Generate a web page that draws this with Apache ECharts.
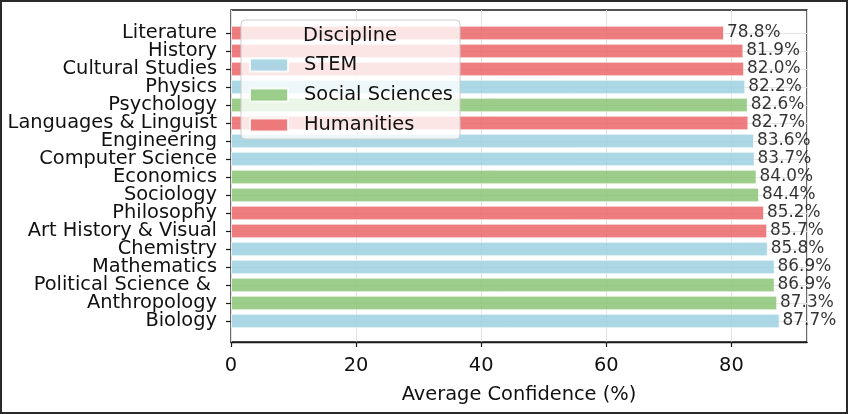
<!DOCTYPE html>
<html>
<head>
<meta charset="utf-8">
<script src="https://cdn.jsdelivr.net/npm/echarts@6/dist/echarts.min.js"></script>
<style>
html,body{margin:0;padding:0;background:#fff;}
#chart{width:848px;height:414px;}
</style>
</head>
<body>
<div id="chart"></div>
<script>
const categories = ['Literature','History','Cultural Studies','Physics','Psychology','Languages & Linguist','Engineering','Computer Science','Economics','Sociology','Philosophy','Art History & Visual','Chemistry','Mathematics','Political Science & ','Anthropology','Biology'];
const values = [78.8,81.9,82.0,82.2,82.6,82.7,83.6,83.7,84.0,84.4,85.2,85.7,85.8,86.9,86.9,87.3,87.7];
const groups = ['Humanities','Humanities','Humanities','STEM','Social Sciences','Humanities','STEM','STEM','Social Sciences','Social Sciences','Humanities','Humanities','STEM','STEM','Social Sciences','Social Sciences','STEM'];
const groupNames = ['STEM','Social Sciences','Humanities'];
const groupColors = ['#9dd1e2','#8bc477','#eb6669'];
const legendTitle = 'Discipline';
const xName = 'Average Confidence (%)';

const FONT = 'DejaVu Sans';
const FS = 19.4;
const FS_VAL = 16.9;
const xMax = 92.085;

const series = groupNames.map((g, k) => ({
  name: g,
  type: 'bar',
  xAxisIndex: 1,
  yAxisIndex: 1,
  barWidth: 14.4,
  barGap: '-100%',
  itemStyle: {color: groupColors[k], opacity: 0.85, borderColor: '#fff', borderWidth: 0.8},
  label: {
    show: true, position: 'right', distance: 3,
    fontFamily: FONT, fontSize: FS_VAL, color: '#111',
    formatter: p => p.value.toFixed(1) + '%'
  },
  data: values.map((v, i) => groups[i] === g ? v : null),
  z: 2
}));

const chart = echarts.init(document.getElementById('chart'), null, {renderer: 'canvas'});
chart.setOption({
  animation: false,
  backgroundColor: '#fff',
  textStyle: {fontFamily: FONT},
  grid: [
    {left: 231, right: 41, top: 10, height: 332, show: true, borderColor: '#1a1a1a', borderWidth: 1.3, backgroundColor: 'transparent'},
    {left: 231, right: 41, top: 24, height: 306},
    {left: 231, right: 41, top: 33, height: 288}
  ],
  xAxis: [
    {gridIndex: 0, type: 'value', min: 0, max: xMax, interval: 20,
     axisLine: {show: true, lineStyle: {color: '#1a1a1a', width: 1.3}},
     axisTick: {show: true, length: 5, lineStyle: {color: '#1a1a1a', width: 1.2}},
     axisLabel: {fontFamily: FONT, fontSize: FS, color: '#111', margin: 14, showMaxLabel: false},
     splitLine: {show: true, lineStyle: {color: '#e3e3e3', width: 1}},
     name: xName, nameLocation: 'middle', nameGap: 43,
     nameTextStyle: {fontFamily: FONT, fontSize: FS, color: '#111'}},
    {gridIndex: 1, type: 'value', min: 0, max: xMax, show: false},
    {gridIndex: 2, type: 'value', min: 0, max: xMax, show: false}
  ],
  yAxis: [
    {gridIndex: 0, type: 'value', min: 0, max: 1, show: false},
    {gridIndex: 1, type: 'category', inverse: true, data: categories,
     axisLine: {show: false},
     axisTick: {show: true, alignWithLabel: true, length: 5, lineStyle: {color: '#1a1a1a', width: 1.2}},
     axisLabel: {fontFamily: FONT, fontSize: FS, color: '#111', margin: 14, interval: 0, padding: [3, 0, 0, 0]},
     splitLine: {show: false}},
    {gridIndex: 2, type: 'category', inverse: true, boundaryGap: false, data: categories,
     axisLine: {show: false}, axisTick: {show: false}, axisLabel: {show: false},
     splitLine: {show: true, interval: 0, lineStyle: {color: '#e3e3e3', width: 1}}}
  ],
  legend: {
    data: groupNames, orient: 'vertical', left: 249, top: 55, padding: 0,
    itemWidth: 38, itemHeight: 13, itemGap: 10, icon: 'rect',
    textStyle: {fontFamily: FONT, fontSize: FS, color: '#111', padding: [0, 0, 0, 11], lineHeight: 20},
    z: 6
  },
  graphic: [
    {type: 'rect', z: 4, shape: {x: 241, y: 20, width: 219, height: 119, r: 4},
     style: {fill: 'rgba(255,255,255,0.8)', stroke: '#cccccc', lineWidth: 1}},
    {type: 'text', z: 6, x: 350, y: 36,
     style: {text: legendTitle, fontFamily: FONT, fontSize: FS, fill: '#111', textAlign: 'center', textVerticalAlign: 'middle'}},
    {type: 'rect', z: 10, shape: {x: 1, y: 1, width: 846, height: 412},
     style: {fill: 'none', stroke: '#2a2a2a', lineWidth: 2}}
  ],
  series: series
});
</script>
</body>
</html>
